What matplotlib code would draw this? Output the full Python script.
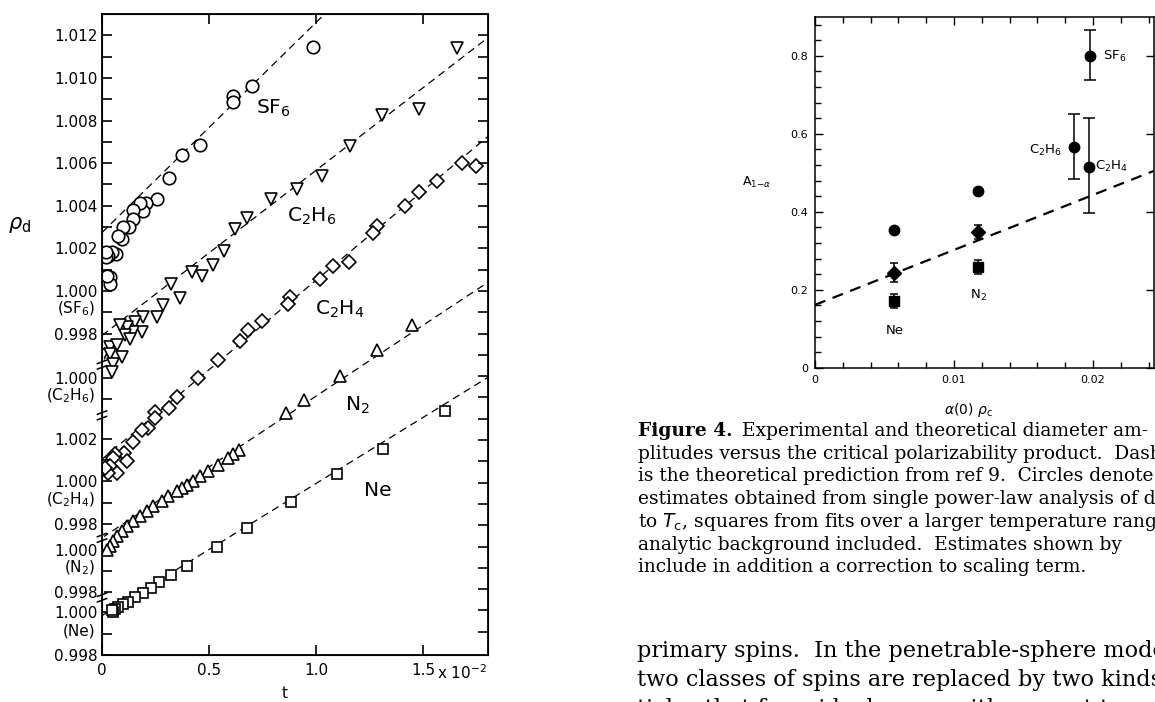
import numpy as np
import matplotlib.pyplot as plt
from matplotlib.transforms import blended_transform_factory

# ---- left panel: rho_d versus t (t in units of 1e-2) ----
sf6_t = [0.987, 0.702, 0.614, 0.614, 0.458, 0.372, 0.311, 0.256, 0.204, 0.193, 0.178, 0.146,
         0.143, 0.126, 0.100, 0.092, 0.076, 0.065, 0.045, 0.029, 0.019, 0.019, 0.037, 0.037, 0.025]
sf6_rho = [1.01146, 1.00963, 1.00913, 1.00889, 1.00684, 1.00636, 1.00528, 1.00433, 1.00414,
           1.00375, 1.00411, 1.00379, 1.00336, 1.00300, 1.00298, 1.00246, 1.00256, 1.00173,
           1.00181, 1.00165, 1.00159, 1.00182, 1.00064, 1.00033, 1.00072]

c2h6_t = [1.657, 1.483, 1.307, 1.159, 1.027, 0.910, 0.788, 0.676, 0.621, 0.570, 0.520, 0.466,
          0.419, 0.364, 0.321, 0.286, 0.256, 0.193, 0.185, 0.154, 0.146, 0.115, 0.107, 0.037,
          0.069, 0.006, 0.037, 0.053, 0.045, 0.092, 0.084, 0.131]
c2h6_rho = [1.01546, 1.01261, 1.01234, 1.01086, 1.00946, 1.00884, 1.00837, 1.00751, 1.00697,
            1.00593, 1.00528, 1.00476, 1.00497, 1.00373, 1.00440, 1.00342, 1.00284, 1.00284,
            1.00214, 1.00261, 1.00214, 1.00237, 1.00198, 1.00144, 1.00151, 1.00105, 1.00113,
            1.00066, 1.00027, 1.00097, 1.00245, 1.00183]

c2h4_t = [1.750, 1.681, 1.564, 1.483, 1.416, 1.287, 1.268, 1.156, 1.081, 1.019, 0.879, 0.871,
          0.746, 0.684, 0.645, 0.544, 0.450, 0.349, 0.311, 0.248, 0.248, 0.216, 0.185, 0.143,
          0.103, 0.115, 0.061, 0.053, 0.037, 0.069, 0.029, 0.014]
c2h4_rho = [1.01480, 1.01495, 1.01409, 1.01358, 1.01293, 1.01199, 1.01168, 1.01028, 1.01012,
            1.00950, 1.00864, 1.00833, 1.00751, 1.00709, 1.00657, 1.00568, 1.00483, 1.00397,
            1.00343, 1.00327, 1.00296, 1.00249, 1.00241, 1.00184, 1.00132, 1.00094, 1.00128,
            1.00109, 1.00070, 1.00039, 1.00039, 1.00062]

n2_t = [1.447, 1.284, 1.112, 0.944, 0.860, 0.642, 0.614, 0.590, 0.544, 0.497, 0.458, 0.427,
        0.396, 0.372, 0.349, 0.310, 0.279, 0.240, 0.209, 0.178, 0.146, 0.115, 0.092, 0.069,
        0.053, 0.037, 0.022]
n2_rho = [1.01052, 1.00935, 1.00815, 1.00702, 1.00639, 1.00468, 1.00448, 1.00429, 1.00398,
          1.00367, 1.00343, 1.00320, 1.00304, 1.00289, 1.00273, 1.00250, 1.00227, 1.00203,
          1.00180, 1.00156, 1.00133, 1.00110, 1.00086, 1.00063, 1.00040, 1.00016, 1.00000]

ne_t = [1.603, 1.312, 1.096, 0.882, 0.676, 0.536, 0.399, 0.321, 0.268, 0.227, 0.190, 0.154,
        0.123, 0.100, 0.076, 0.061, 0.053, 0.045]
ne_rho = [1.00945, 1.00767, 1.00649, 1.00518, 1.00397, 1.00308, 1.00218, 1.00176, 1.00143,
          1.00113, 1.00093, 1.00073, 1.00051, 1.00038, 1.00026, 1.00015, 1.00000, 1.00009]

# dashed fits: rho_d at t=0 and slope per 1e-2
fit_rho0 = {"SF6": 1.00274, "C2H6": 1.00198, "C2H4": 1.00104, "N2": 1.00055, "Ne": 0.99985}
fit_slope = {"SF6": 0.00986, "C2H6": 0.00775, "C2H4": 0.0084, "N2": 0.00665, "Ne": 0.0062}

# ---- right panel: amplitude versus alpha(0) rho_c ----
circ_x = [0.0057, 0.0117, 0.0186, 0.0197, 0.0198]
circ_y = [0.354, 0.453, 0.566, 0.515, 0.800]
circ_up = [0, 0, 0.084, 0.124, 0.065]
circ_dn = [0, 0, 0.081, 0.119, 0.062]
diam_x = [0.0057, 0.0117]
diam_y = [0.242, 0.349]
diam_up = [0.026, 0.018]
diam_dn = [0.023, 0.019]
sq_x = [0.0057, 0.0117]
sq_y = [0.172, 0.257]
sq_up = [0.017, 0.019]
sq_dn = [0.018, 0.017]
theory_a, theory_b = 0.161, 14.1


W, H = 1155, 702
def px(x, y):
    return x / W, 1 - y / H

fig = plt.figure(figsize=(W / 100, H / 100), dpi=100)

# stacked vertical offsets, in units of 0.001
offsets = {"SF6": 0.0, "C2H6": -4.07, "C2H4": -8.94, "N2": -12.14, "Ne": -15.09}

def shift(rho, name):
    return (np.array(rho) - 1) * 1000 + offsets[name]

ax = fig.add_axes([102 / W, 1 - 655 / H, 386 / W, 641 / H])
ax.set_xlim(0, 1.804)
ax.set_ylim(-17.09, 13.0)

series = [("SF6", sf6_t, sf6_rho, "o", 9),
          ("C2H6", c2h6_t, c2h6_rho, "v", 9),
          ("C2H4", c2h4_t, c2h4_rho, "D", 7.5),
          ("N2", n2_t, n2_rho, "^", 8.5),
          ("Ne", ne_t, ne_rho, "s", 7.5)]
tt = np.array([0, 1.81])
for name, t, rho, mk, ms in series:
    fit = fit_rho0[name] + fit_slope[name] * tt
    ax.plot(tt, shift(fit, name), color="black", lw=0.9, dashes=(6, 4))
    ax.plot(t, shift(rho, name), mk, ms=ms, mfc="white", mec="black", mew=1.2, ls="none")

# y ticks: each substance has its own scale
major_pos, major_lab, minor_pos = [], [], []
tick_vals = {"SF6": ([12, 10, 8, 6, 4, 2, 0, -2], [11, 9, 7, 5, 3, 1, -1, -3]),
             "C2H6": ([0], [-1]),
             "C2H4": ([2, 0, -2], [1, -1]),
             "N2": ([0, -2], [-1]),
             "Ne": ([0, -2], [-1])}
for name, (maj, mnr) in tick_vals.items():
    for v in maj:
        major_pos.append(v + offsets[name])
        major_lab.append(f"{1 + v / 1000:.3f}")
    for v in mnr:
        minor_pos.append(v + offsets[name])
ax.set_yticks(major_pos)
ax.set_yticklabels(major_lab)
ax.set_yticks(minor_pos, minor=True)
ax.set_xticks([0, 0.5, 1.0, 1.5])
ax.set_xticklabels(["0", "0.5", "1.0", "1.5"])
ax.tick_params(which="both", direction="in", labelsize=11, width=1.2, top=True, pad=3)
ax.tick_params(axis="y", which="major", length=7)
ax.tick_params(axis="y", which="minor", length=7)
ax.tick_params(axis="x", length=7, pad=6)
for s in ax.spines.values():
    s.set_linewidth(1.3)

axr = ax.twinx()
axr.set_ylim(ax.get_ylim())
axr.set_yticks(np.arange(-16, 13))
axr.set_yticklabels([])
axr.tick_params(direction="in", length=7, width=1.2)

# substance names under the 1.000 labels
names_tex = {"SF6": "(SF$_6$)", "C2H6": "(C$_2$H$_6$)", "C2H4": "(C$_2$H$_4$)",
             "N2": "(N$_2$)", "Ne": "(Ne)"}
ytrans = blended_transform_factory(ax.transAxes, ax.transData)
for name, lab in names_tex.items():
    ax.text(-0.018, offsets[name] - 0.85, lab, transform=ytrans, ha="right", va="center",
            fontsize=11)

# scale breaks on the left spine
for b in [-3.46, -5.84, -11.59, -14.39]:
    ax.plot([0, 0], [b - 0.22, b + 0.22], color="white", lw=3, transform=ytrans, clip_on=False)
    for d in (-0.13, 0.13):
        ax.plot([-0.012, 0.012], [b + d - 0.08, b + d + 0.08], color="black", lw=1.1,
                transform=ytrans, clip_on=False)

fig.text(*px(437, 673), "x 10$^{-2}$", fontsize=11, va="center", ha="left")
fig.text(*px(285, 693), "t", fontsize=11, ha="center", va="center")
fig.text(*px(20, 225), r"$\rho_{\rm d}$", fontsize=15, ha="center", va="center")

big = 14.5
fig.text(*px(273, 108), "SF$_6$", fontsize=big, ha="center", va="center")
fig.text(*px(312, 216), "C$_2$H$_6$", fontsize=big, ha="center", va="center")
fig.text(*px(340, 309), "C$_2$H$_4$", fontsize=big, ha="center", va="center")
fig.text(*px(357, 405), "N$_2$", fontsize=big, ha="center", va="center")
fig.text(*px(378, 490), "Ne", fontsize=big, ha="center", va="center")

# ---- right panel ----
ax2 = fig.add_axes([815 / W, 1 - 367.7 / H, 338.5 / W, 351 / H])
ax2.set_xlim(0, 0.02435)
ax2.set_ylim(0, 0.9)
xx = np.array([0, 0.02435])
ax2.plot(xx, theory_a + theory_b * xx, color="black", lw=1.6, dashes=(5, 3.5))

ex = [x for x, u in zip(circ_x, circ_up) if u > 0]
ey = [y for y, u in zip(circ_y, circ_up) if u > 0]
eu = [u for u in circ_up if u > 0]
ed = [d for d, u in zip(circ_dn, circ_up) if u > 0]
ax2.errorbar(ex, ey, yerr=[ed, eu], fmt="none", ecolor="black", elinewidth=1.1,
             capsize=4.5, capthick=1.1)
ax2.plot(circ_x, circ_y, "o", color="black", ms=7.5)
ax2.errorbar(diam_x, diam_y, yerr=[diam_dn, diam_up], fmt="D", color="black", ms=7,
             elinewidth=1.1, capsize=3, capthick=1.1)
ax2.errorbar(sq_x, sq_y, yerr=[sq_dn, sq_up], fmt="s", color="black", ms=6.5,
             elinewidth=1.1, capsize=3, capthick=1.1)

ax2.set_xticks([0, 0.01, 0.02])
ax2.set_xticklabels(["0", "0.01", "0.02"])
ax2.set_xticks(np.arange(0, 0.0245, 0.002), minor=True)
ax2.set_yticks([0, 0.2, 0.4, 0.6, 0.8])
ax2.set_yticklabels(["0", "0.2", "0.4", "0.6", "0.8"])
ax2.set_yticks(np.arange(0, 0.9, 0.04), minor=True)
ax2.tick_params(which="both", direction="in", labelsize=8, width=1, top=True, right=True)
ax2.tick_params(which="major", length=6, pad=5)
ax2.tick_params(which="minor", length=4, right=False)
for s in ax2.spines.values():
    s.set_linewidth(1.1)

fs2 = 9.5
fig.text(*px(1103, 56), "SF$_6$", fontsize=fs2, ha="left", va="center")
fig.text(*px(1062, 150), "C$_2$H$_6$", fontsize=fs2, ha="right", va="center")
fig.text(*px(1095, 166), "C$_2$H$_4$", fontsize=fs2, ha="left", va="center")
fig.text(*px(895, 331), "Ne", fontsize=fs2, ha="center", va="center")
fig.text(*px(978, 295), "N$_2$", fontsize=fs2, ha="center", va="center")
fig.text(*px(742, 182), r"A$_{1\mathrm{-}\alpha}$", fontsize=9, ha="left", va="center")
fig.text(*px(968, 410), r"$\alpha$(0) $\rho_{\rm c}$", fontsize=10, ha="center", va="center")

# ---- caption and body text (cut by the page edge, as in the scan) ----
cap_lines = ["Experimental and theoretical diameter am-",
             "plitudes versus the critical polarizability product.  Dashed",
             "is the theoretical prediction from ref 9.  Circles denote",
             "estimates obtained from single power-law analysis of data",
             "to $T_{\\rm c}$, squares from fits over a larger temperature range",
             "analytic background included.  Estimates shown by",
             "include in addition a correction to scaling term."]
body_lines = ["primary spins.  In the penetrable-sphere model",
              "two classes of spins are replaced by two kinds",
              "ticles that form ideal gases with respect to"]

serif = "DejaVu Serif"
cap_fs, body_fs = 13.4, 16.1
fig.canvas.draw()
rend = fig.canvas.get_renderer()
head = fig.text(*px(638, 431), "Figure 4.", fontsize=cap_fs, family=serif, weight="bold",
                va="center")
hw = head.get_window_extent(rend).width
fig.text((638 + hw + 9) / W, 1 - 431 / H, cap_lines[0], fontsize=cap_fs, family=serif,
         va="center")
for i, line in enumerate(cap_lines[1:]):
    fig.text(*px(638, 453.7 + i * 22.7), line, fontsize=cap_fs, family=serif, va="center")
for i, line in enumerate(body_lines):
    fig.text(*px(637, 651 + i * 29), line, fontsize=body_fs, family=serif, va="center")

fig.savefig("out.png", dpi=100)
